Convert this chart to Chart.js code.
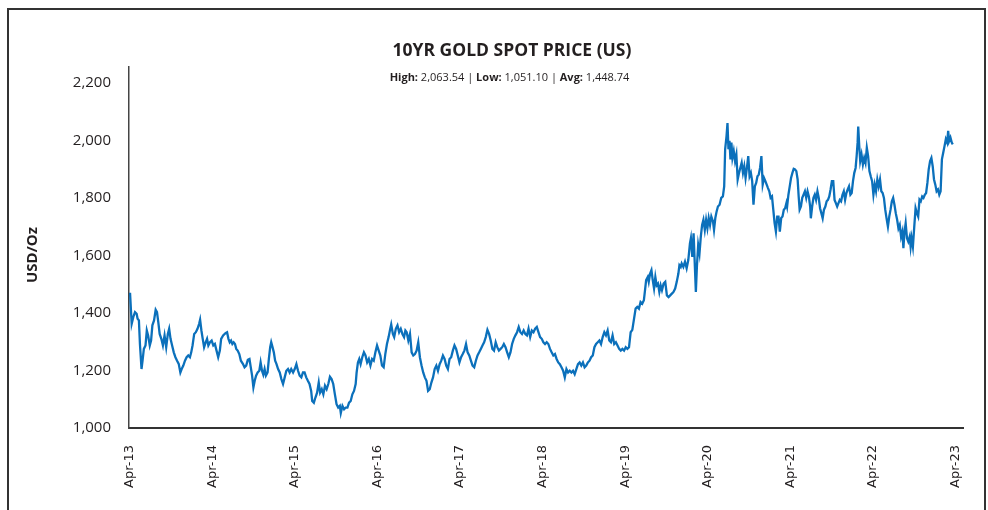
<!DOCTYPE html>
<html>
<head>
<meta charset="utf-8">
<title>10YR Gold Spot Price (US)</title>
<script src="https://cdn.jsdelivr.net/npm/chart.js@4.4.0/dist/chart.umd.min.js"></script>
<style>
  html, body { margin: 0; padding: 0; background: #fff; }
  .frame { position: relative; width: 988px; height: 510px; overflow: hidden; }
  .box { position: absolute; left: 7px; top: 8px; width: 979px; height: 540px; border: 2px solid #333; box-sizing: border-box; }
  #chart { position: absolute; left: 0; top: 0; }
  .title, .subtitle { position: absolute; left: 0; width: 1024px; text-align: center; color: #231f20; font-family: "Open Sans", sans-serif; white-space: nowrap; }
  .title { top: 37px; font-size: 17.5px; font-weight: 700; }
  .subtitle { top: 69px; font-size: 11px; width: 1019px; }
  .subtitle b { font-weight: 700; }
</style>
</head>
<body>
<div class="frame">
  <div class="box"></div>
  <canvas id="chart" width="988" height="510"></canvas>
  <div class="title">10YR GOLD SPOT PRICE (US)</div>
  <div class="subtitle"><b>High:</b> 2,063.54 | <b>Low:</b> 1,051.10 | <b>Avg:</b> 1,448.74</div>
</div>
<script>
// months since April 2013
const months = [
  0, 0.24, 0.48, 0.72, 0.96, 1.10, 1.29, 1.44, 1.67, 1.82,
  2.01, 2.25, 2.44, 2.63, 2.87, 3.06, 3.25, 3.49, 3.73, 3.92,
  4.11, 4.31, 4.55, 4.78, 5.02, 5.26, 5.50, 5.69, 5.89, 6.12,
  6.36, 6.60, 6.84, 7.08, 7.32, 7.51, 7.75, 7.99, 8.23, 8.47,
  8.71, 8.90, 9.09, 9.33, 9.57, 9.81, 10.05, 10.19, 10.38, 10.57,
  10.77, 11.00, 11.20, 11.39, 11.63, 11.87, 12.11, 12.34, 12.58, 12.82,
  13.06, 13.25, 13.54, 13.88, 14.11, 14.31, 14.50, 14.69, 14.88, 15.07,
  15.26, 15.45, 15.65, 15.89, 16.12, 16.41, 16.65, 16.89, 17.13, 17.37,
  17.56, 17.75, 17.94, 18.13, 18.33, 18.56, 18.80, 18.99, 19.19, 19.38,
  19.57, 19.76, 20.00, 20.19, 20.38, 20.53, 20.72, 20.91, 21.10, 21.29,
  21.53, 21.77, 22.01, 22.25, 22.49, 22.73, 22.97, 23.21, 23.44,
  23.71, 23.95, 24.19, 24.43, 24.67, 24.91, 25.15, 25.38, 25.62, 25.86,
  26.10, 26.34, 26.49, 26.73, 26.96, 27.20, 27.44, 27.64, 27.88, 28.11,
  28.35, 28.59, 28.83, 29.07, 29.31, 29.55, 29.79, 30.03, 30.27, 30.51,
  30.65, 30.89, 31.13, 31.37, 31.61, 31.85, 32.09, 32.33, 32.57, 32.81,
  32.95, 33.14, 33.33, 33.53, 33.77, 34.01, 34.24, 34.48, 34.72, 34.96,
  35.20, 35.44, 35.68, 35.92, 36.16, 36.40, 36.64, 36.88, 37.12, 37.36,
  37.60, 37.84, 37.98, 38.22, 38.41, 38.65, 38.89, 39.13, 39.37, 39.61,
  39.85, 40.04, 40.23, 40.47, 40.71, 40.95, 41.19, 41.43, 41.67, 41.91,
  42.15, 42.39, 42.63, 42.87, 43.11, 43.34, 43.58, 43.82, 44.06, 44.30,
  44.54, 44.78, 45.02, 45.26, 45.50, 45.74, 45.98, 46.22, 46.46, 46.70,
  46.94, 47.18, 47.42, 47.66, 47.90, 48.14, 48.38, 48.62, 48.86, 49.09,
  49.33, 49.57, 49.81, 50.05, 50.29, 50.53, 50.77, 51.01, 51.25, 51.49,
  51.73, 51.97, 52.21, 52.45, 52.69, 52.93, 53.17, 53.40, 53.64, 53.88,
  54.12, 54.36, 54.60, 54.84, 55.08, 55.32, 55.56, 55.80, 56.04, 56.28,
  56.52, 56.76, 57.00, 57.24, 57.48, 57.72, 57.95, 58.19, 58.43, 58.67,
  58.91, 59.15, 59.39, 59.63, 59.87, 60.11, 60.35, 60.59, 60.83, 61.07,
  61.31, 61.55, 61.79, 62.03, 62.27, 62.50, 62.74, 62.98, 63.22, 63.46,
  63.70, 63.94, 64.18, 64.42, 64.66, 64.90, 65.14, 65.38, 65.62, 65.86,
  66.10, 66.34, 66.58, 66.82, 67.05, 67.29, 67.53, 67.77, 68.01, 68.25,
  68.49, 68.73, 68.97, 69.21, 69.45, 69.69, 69.93, 70.17, 70.41, 70.65,
  70.89, 71.13, 71.36, 71.60, 71.84, 72.08, 72.32, 72.56, 72.80, 73.04,
  73.52, 73.76, 74.00, 74.24, 74.48, 74.72, 74.86, 75.05, 75.29, 75.43,
  75.63, 75.82, 76.01, 76.20, 76.39, 76.58, 76.77, 76.97, 77.16, 77.35,
  77.59, 77.83, 78.07, 78.31, 78.55, 78.79, 79.03, 79.27, 79.50, 79.74,
  79.89, 80.08, 80.22, 80.46, 80.70, 80.94, 81.18, 81.42, 81.56, 81.76,
  81.95, 82.14, 82.28, 82.43, 82.62, 82.81, 83.00, 83.19, 83.38, 83.58,
  83.77, 83.96, 84.15, 84.34, 84.53, 84.77, 84.92, 85.11, 85.30, 85.49,
  85.73, 85.97, 86.21, 86.40, 86.54, 86.74, 86.88, 87.02, 87.17, 87.31,
  87.45, 87.60, 87.79, 87.98, 88.17, 88.36, 88.56, 88.75, 88.94, 89.13,
  89.32, 89.51, 89.71, 89.90, 90.09, 90.28, 90.47, 90.66, 90.86, 91.05,
  91.24, 91.43, 91.62, 91.81, 92.00, 92.20, 92.39, 92.58, 92.77, 92.96,
  93.15, 93.35, 93.54, 93.73, 93.92, 94.11, 94.30, 94.49, 94.69, 94.88,
  95.07, 95.26, 95.45,
  95.55, 95.74, 95.93, 96.12, 96.32, 96.51, 96.70, 96.89, 97.08, 97.23,
  97.37, 97.56, 97.75, 97.94, 98.14, 98.33, 98.52, 98.71, 98.90, 99.00,
  99.19, 99.38, 99.57, 99.76, 99.96, 100.15, 100.34, 100.53, 100.72, 100.91,
  101.11, 101.30, 101.49, 101.68, 101.87, 102.06, 102.26, 102.45, 102.64, 102.83,
  103.02, 103.21, 103.40, 103.60, 103.79, 103.98, 104.17, 104.36, 104.55, 104.75,
  104.94, 105.13, 105.32, 105.51, 105.66, 105.80, 105.89, 106.04, 106.18, 106.37,
  106.57, 106.76, 106.95, 107.14, 107.33, 107.52, 107.71, 107.91, 108.10, 108.29,
  108.48, 108.67, 108.86, 109.06, 109.25, 109.44, 109.63, 109.82, 110.01, 110.21,
  110.40, 110.59, 110.78, 110.97, 111.16, 111.35, 111.55, 111.74, 111.93, 112.12,
  112.31, 112.46, 112.60, 112.79, 112.98, 113.17, 113.37, 113.51, 113.65, 113.84,
  114.04, 114.23, 114.42, 114.61, 114.80, 114.99, 115.19, 115.38, 115.57, 115.76,
  115.95, 116.14, 116.34, 116.53, 116.72, 116.91, 117.10, 117.29, 117.49, 117.68,
  117.87, 118.06, 118.25, 118.44, 118.63, 118.83, 118.97, 119.11, 119.30, 119.49,
  119.64
];

// USD per ounce
const prices = [
  1470, 1362, 1386, 1403, 1397, 1380, 1374, 1292, 1205, 1234,
  1275, 1287, 1339, 1322, 1287, 1304, 1357, 1374, 1411, 1403,
  1368, 1327, 1310, 1287, 1322, 1281, 1327, 1345, 1310, 1287,
  1263, 1246, 1234, 1223, 1193, 1205, 1217, 1234, 1246, 1252,
  1246, 1263, 1287, 1327, 1333, 1345, 1362, 1376, 1339, 1310,
  1281, 1298, 1310, 1287, 1298, 1304, 1287, 1292, 1269, 1246,
  1269, 1310, 1322, 1330, 1333, 1310, 1298, 1304, 1292, 1298,
  1292, 1275, 1269, 1257, 1234, 1223, 1211, 1217, 1237, 1240,
  1211, 1182, 1141, 1164, 1182, 1193, 1199, 1228, 1199, 1185,
  1205, 1182, 1193, 1240, 1281, 1298, 1281, 1263, 1234, 1223,
  1205, 1193, 1170, 1153, 1176, 1199, 1205, 1193, 1205,
  1193, 1205, 1222, 1199, 1182, 1176, 1193, 1193, 1176, 1164,
  1153, 1129, 1094, 1088, 1106, 1123, 1158, 1123, 1135, 1117,
  1147, 1135, 1153, 1178, 1170, 1153, 1117, 1083, 1071, 1077,
  1052, 1077, 1065, 1071, 1071, 1088, 1094, 1117, 1129, 1153,
  1193, 1228, 1240, 1222, 1246, 1263, 1252, 1228, 1240, 1217,
  1240, 1234, 1263, 1287, 1269, 1252, 1217, 1211, 1257, 1292,
  1316, 1345, 1360, 1327, 1316, 1345, 1357, 1333, 1345, 1327,
  1316, 1339, 1333, 1304, 1327, 1263, 1252, 1257, 1269, 1298,
  1246, 1217, 1193, 1176, 1164, 1129, 1135, 1158, 1176, 1205,
  1217, 1199, 1222, 1234, 1252, 1240, 1217, 1205, 1240, 1246,
  1269, 1287, 1275, 1252, 1228, 1246, 1257, 1269, 1292, 1263,
  1252, 1234, 1217, 1211, 1234, 1252, 1263, 1275, 1287, 1298,
  1316, 1341, 1327, 1304, 1275, 1269, 1298, 1281, 1269, 1275,
  1281, 1292, 1281, 1263, 1246, 1263, 1292, 1310, 1322, 1333,
  1351, 1333, 1327, 1339, 1327, 1322, 1345, 1316, 1339, 1333,
  1345, 1351, 1333, 1316, 1310, 1298, 1292, 1298, 1292, 1275,
  1263, 1252, 1257, 1240, 1228, 1222, 1211, 1199, 1176, 1205,
  1193, 1199, 1193, 1199, 1187, 1205, 1222, 1228, 1217, 1228,
  1211, 1217, 1228, 1234, 1246, 1252, 1281, 1292, 1298, 1304,
  1292, 1316, 1333, 1322, 1339, 1304, 1298, 1322, 1292, 1298,
  1287, 1275, 1269, 1275, 1269, 1281, 1275, 1281, 1333, 1341,
  1415, 1421, 1415, 1438, 1432, 1444, 1473, 1514, 1525, 1508,
  1537, 1549, 1514, 1485, 1525, 1496, 1502, 1473, 1496, 1479,
  1502, 1508, 1461, 1455, 1461, 1467, 1473, 1485, 1508, 1537,
  1566, 1560, 1572, 1560, 1578, 1555, 1584, 1642, 1660, 1595,
  1677, 1560, 1473, 1560, 1636, 1607, 1665, 1706, 1724, 1689,
  1724, 1695, 1730, 1706, 1735, 1718, 1689, 1730, 1753, 1770,
  1776, 1800, 1805, 1840, 1969, 2015, 2060, 1969, 1998, 1934,
  1992, 1939, 1963, 1928, 1951, 1864, 1887, 1905, 1922, 1887,
  1910, 1869, 1905, 1945, 1875, 1887, 1858, 1776, 1840, 1852,
  1875, 1881, 1905, 1945, 1846, 1869, 1858, 1846, 1834, 1823,
  1800, 1805, 1759, 1712, 1683, 1735, 1735, 1683, 1730, 1735,
  1759, 1764, 1782,
  1770, 1811, 1840, 1869, 1887, 1901, 1899, 1893, 1864, 1805,
  1759, 1770, 1800, 1811, 1823, 1800, 1823, 1805, 1770, 1729,
  1770, 1800, 1811, 1793, 1823, 1800, 1764, 1747, 1729, 1759,
  1770, 1788, 1793, 1805, 1829, 1858, 1858, 1793, 1782, 1770,
  1782, 1793, 1788, 1811, 1823, 1793, 1817, 1829, 1840, 1811,
  1817, 1858, 1887, 1904, 1945, 1992, 2048, 1980, 1928, 1951,
  1916, 1939, 1922, 1974, 1945, 1893, 1875, 1858, 1811, 1846,
  1823, 1864, 1840, 1864, 1823, 1817, 1800, 1759, 1729, 1700,
  1735, 1759, 1788, 1800, 1776, 1747, 1724, 1694, 1706, 1665,
  1683, 1625, 1677, 1712, 1660, 1648, 1665, 1630, 1660, 1630,
  1700, 1764, 1747, 1735, 1794, 1788, 1805, 1800, 1811, 1817,
  1852, 1899, 1928, 1939, 1910, 1864, 1846, 1823, 1829, 1811,
  1823, 1934, 1957, 1980, 2004, 1992, 2033, 1998, 2010, 1992,
  1986
];

const tickMonths = [0, 12, 24, 36, 48, 60, 72, 84, 96, 108, 120];
const tickLabels = ["Apr-13", "Apr-14", "Apr-15", "Apr-16", "Apr-17", "Apr-18", "Apr-19", "Apr-20", "Apr-21", "Apr-22", "Apr-23"];
const yTicks = [1000, 1200, 1400, 1600, 1800, 2000, 2200];
const yTitle = "USD/Oz";

const textColor = "#231f20";
const lineColor = "#0b70bb";

const points = months.slice(0, prices.length).map((m, i) => ({ x: m, y: prices[i] }));

const yTitlePlugin = {
  id: "yTitle",
  afterDraw(chart) {
    const { ctx } = chart;
    ctx.save();
    ctx.translate(33, 255);
    ctx.rotate(-Math.PI / 2);
    ctx.font = "700 15px 'Open Sans'";
    ctx.fillStyle = textColor;
    ctx.textAlign = "center";
    ctx.textBaseline = "middle";
    ctx.fillText(yTitle, 0, 0);
    ctx.restore();
  },
};

new Chart(document.getElementById("chart"), {
  type: "line",
  data: {
    datasets: [{
      data: points,
      borderColor: lineColor,
      borderWidth: 2.3,
      pointRadius: 0,
      tension: 0,
      fill: false,
    }],
  },
  options: {
    responsive: false,
    animation: false,
    events: [],
    layout: { padding: { top: 67, right: 15, left: 0, bottom: 0 } },
    plugins: { legend: { display: false }, tooltip: { enabled: false }, title: { display: false } },
    scales: {
      x: {
        type: "linear",
        min: -0.15,
        max: 121.2,
        afterBuildTicks: (scale) => { scale.ticks = tickMonths.map((value) => ({ value })); },
        afterFit: (scale) => { scale.height = 82; },
        grid: { display: false, drawTicks: false },
        border: { display: true, color: "#333", width: 2 },
        ticks: {
          autoSkip: false,
          minRotation: 90,
          maxRotation: 90,
          padding: 17,
          color: textColor,
          font: { family: "'DejaVu Sans'", size: 13 },
          callback: (value) => tickLabels[tickMonths.indexOf(value)],
        },
      },
      y: {
        min: 1000,
        max: 2255,
        afterBuildTicks: (scale) => { scale.ticks = yTicks.map((value) => ({ value })); },
        afterFit: (scale) => { scale.width = 129; },
        grid: { display: false, drawTicks: false },
        border: { display: true, color: "#444", width: 1.5 },
        ticks: {
          padding: 18,
          color: textColor,
          font: { family: "'Open Sans'", size: 15 },
          callback: (value) => value.toLocaleString("en-US"),
        },
      },
    },
  },
  plugins: [yTitlePlugin],
});
</script>
</body>
</html>
